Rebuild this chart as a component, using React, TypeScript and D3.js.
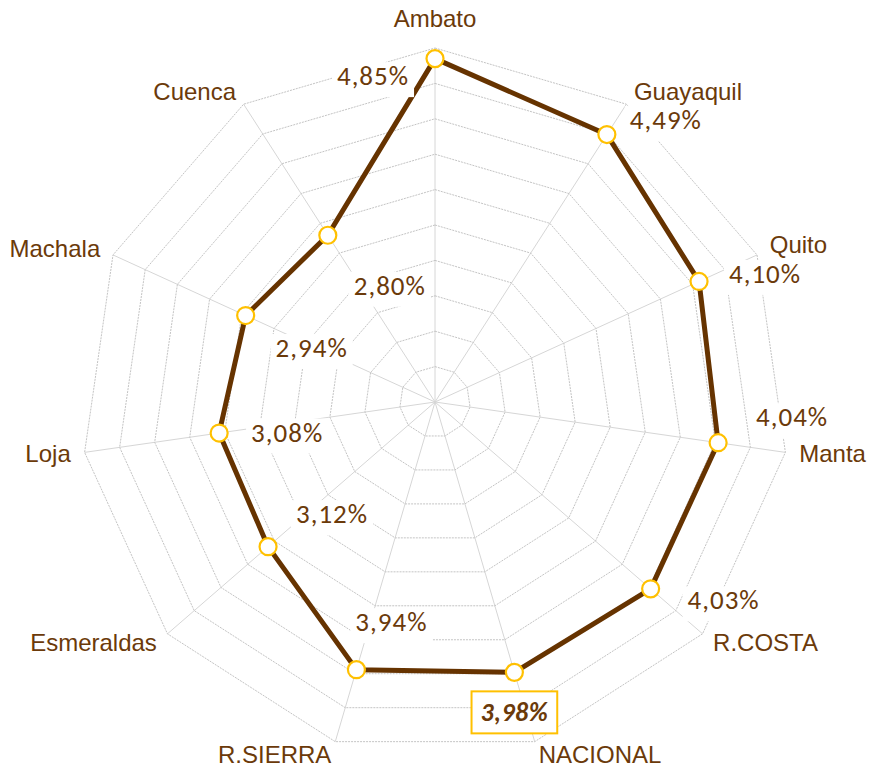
import React, { useEffect, useRef } from "react";
import * as d3 from "d3";

const categories = ["Ambato", "Guayaquil", "Quito", "Manta", "R.COSTA", "NACIONAL", "R.SIERRA", "Esmeraldas", "Loja", "Machala", "Cuenca"];
const values = [4.85, 4.49, 4.10, 4.04, 4.03, 3.98, 3.94, 3.12, 3.08, 2.94, 2.80];
const valueLabels = ["4,85%", "4,49%", "4,10%", "4,04%", "4,03%", "3,98%", "3,94%", "3,12%", "3,08%", "2,94%", "2,80%"];
const highlightIndex = 5;
const ringTicks = d3.range(0.5, 5.01, 0.5);

// label offsets from data point (dx, dy) in px
const labelOffsets: [number, number][] = [
  [-62, 17], [59, -15], [66, -8], [74, -26], [73, 11], [0, 40], [35, -48], [64, -33], [68, -1], [66, 32], [62, 50],
];

const W = 869, H = 772;
const CX = 435, CY = 402, R = 354;
const TEXT = "#6B3A0A";
const LINE = "#663300";
const GOLD = "#FFC000";

export default function App() {
  const ref = useRef<SVGSVGElement>(null);
  useEffect(() => {
    const svg = d3.select(ref.current);
    svg.selectAll("*").remove();
    const n = categories.length;
    const r = d3.scaleLinear().domain([0, 5]).range([0, R]);
    const ang = (i: number) => (i * 2 * Math.PI) / n;
    const pt = (i: number, v: number): [number, number] => [CX + r(v) * Math.sin(ang(i)), CY - r(v) * Math.cos(ang(i))];

    const g = svg.append("g");
    // spokes
    categories.forEach((_, i) => {
      const [x, y] = pt(i, 5);
      g.append("line").attr("x1", CX).attr("y1", CY).attr("x2", x).attr("y2", y)
        .attr("stroke", "#d6d6d6").attr("stroke-width", 1);
    });
    // rings
    const ringLine = d3.line<[number, number]>().curve(d3.curveLinearClosed);
    ringTicks.forEach((t) => {
      g.append("path").attr("d", ringLine(categories.map((_, i) => pt(i, t))) as string)
        .attr("fill", "none").attr("stroke", "#c4c4c4").attr("stroke-width", 1).attr("stroke-dasharray", "2,1");
    });

    // data line
    const dataLine = d3.line<[number, number]>().curve(d3.curveLinearClosed);
    const pts = values.map((v, i) => pt(i, v));
    g.append("path").attr("d", dataLine(pts) as string).attr("fill", "none")
      .attr("stroke", LINE).attr("stroke-width", 5).attr("stroke-linejoin", "round");

    // value labels
    values.forEach((v, i) => {
      const [px, py] = pts[i];
      const [dx, dy] = labelOffsets[i];
      const lg = g.append("g");
      const hl = i === highlightIndex;
      const bg = lg.append("rect").attr("fill", "white");
      const t = lg.append("text").attr("x", px + dx).attr("y", py + dy)
        .attr("text-anchor", "middle").attr("dominant-baseline", "central")
        .attr("font-family", "Carlito, Lato, 'Open Sans', sans-serif")
        .attr("font-size", hl ? 26 : 27).attr("fill", TEXT)
        .attr("letter-spacing", hl ? 0.5 : 1)
        .attr("font-weight", hl ? "bold" : "normal")
        .attr("font-style", hl ? "italic" : "normal")
        .text(valueLabels[i]);
      const bb = (t.node() as SVGTextElement).getBBox();
      const pad = hl ? 9 : 5;
      bg.attr("x", bb.x - pad).attr("y", bb.y + (hl ? -5 : 3)).attr("width", bb.width + pad * 2).attr("height", bb.height + (hl ? 10 : 2));
      if (hl) bg.attr("stroke", GOLD).attr("stroke-width", 2);
    });

    // markers
    pts.forEach(([x, y]) => {
      g.append("circle").attr("cx", x).attr("cy", y).attr("r", 8.5)
        .attr("fill", "white").attr("stroke", GOLD).attr("stroke-width", 2.2);
    });

    // category labels
    categories.forEach((c, i) => {
      const a = ang(i);
      const rr = R + 14;
      const x = CX + rr * Math.sin(a);
      let y = CY - rr * Math.cos(a);
      const s = Math.sin(a);
      let anchor = "middle";
      if (s > 0.05) anchor = "start";
      else if (s < -0.05) anchor = "end";
      if (i === 0) y -= 15;
      if (i === 2) y -= 4;
      g.append("text").attr("x", x).attr("y", y + 8)
        .attr("text-anchor", anchor)
        .attr("font-family", "'Liberation Sans', Arial, sans-serif")
        .attr("font-size", 24).attr("fill", TEXT).text(c);
    });
  }, []);
  return (
    <svg ref={ref} width={W} height={H} style={{ position: "absolute", left: 0, top: 0, display: "block", background: "white" }} />
  );
}
